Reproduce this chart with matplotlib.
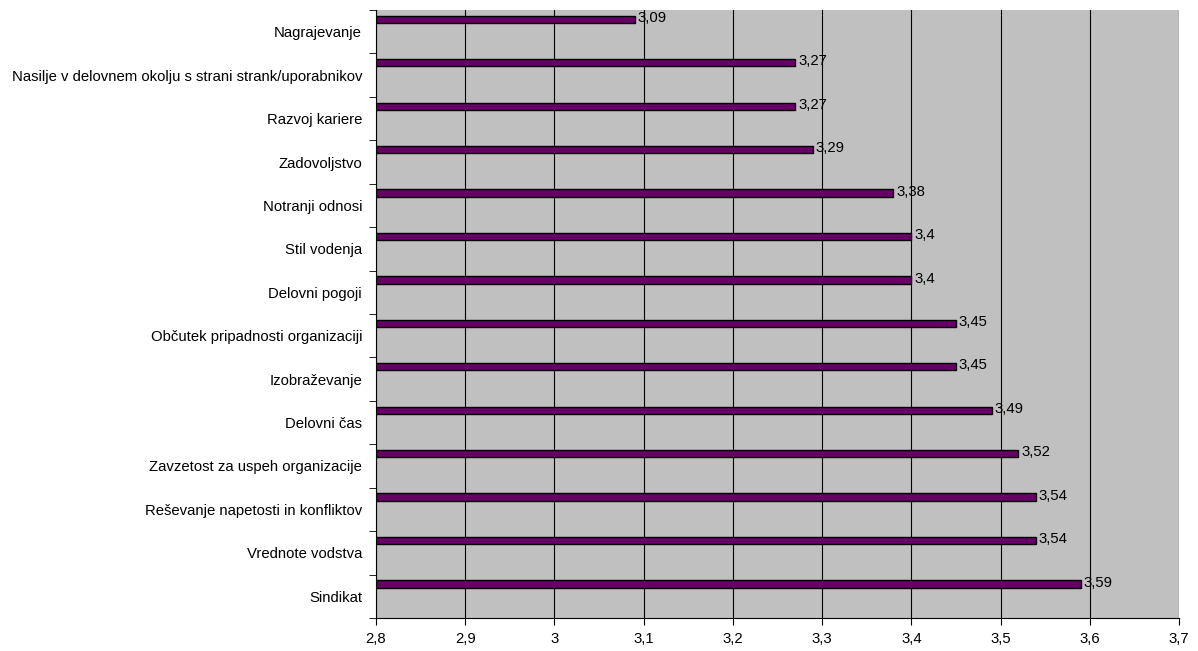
import numpy as np
import matplotlib.pyplot as plt

plt.rcParams['font.family'] = ['Liberation Sans', 'DejaVu Sans']

# Categories from top to bottom with their mean scores
categories = [
    "Nagrajevanje",
    "Nasilje v delovnem okolju s strani strank/uporabnikov",
    "Razvoj kariere",
    "Zadovoljstvo",
    "Notranji odnosi",
    "Stil vodenja",
    "Delovni pogoji",
    "Občutek pripadnosti organizaciji",
    "Izobraževanje",
    "Delovni čas",
    "Zavzetost za uspeh organizacije",
    "Reševanje napetosti in konfliktov",
    "Vrednote vodstva",
    "Sindikat",
]
scores = [3.09, 3.27, 3.27, 3.29, 3.38, 3.40, 3.40, 3.45, 3.45, 3.49, 3.52, 3.54, 3.54, 3.59]
x_ticks = [2.8, 2.9, 3.0, 3.1, 3.2, 3.3, 3.4, 3.5, 3.6, 3.7]

FS = 10.7

def fmt(v):
    s = f"{v:.2f}".rstrip("0").rstrip(".")
    return s.replace(".", ",")

fig = plt.figure(figsize=(11.98, 6.51), dpi=100)
ax = fig.add_axes([376 / 1198, 1 - 618 / 651, (1179 - 376) / 1198, (618 - 10) / 651])
ax.set_facecolor("#C0C0C0")

pos = np.arange(len(categories))
x0 = x_ticks[0]
# bars sit in the upper part of each category band
bar_y = pos - 0.5 + 0.215
ax.barh(bar_y, np.array(scores) - x0, left=x0, height=0.17,
        color="#660066", edgecolor="black", linewidth=1.0, zorder=3)

for y, v in zip(bar_y, scores):
    ax.text(v + 0.003, y - 0.03, fmt(v), va="center", ha="left", fontsize=FS, zorder=4)

ax.set_xlim(x_ticks[0], x_ticks[-1])
ax.set_ylim(len(categories) - 0.5, -0.5)
ax.set_xticks(x_ticks)
ax.set_xticklabels([fmt(t) for t in x_ticks], fontsize=FS)
ax.set_yticks(pos)
ax.set_yticklabels(categories, fontsize=FS)
ax.set_yticks(np.arange(len(categories) + 1) - 0.5, minor=True)
ax.tick_params(axis="y", which="major", length=0, pad=10)
ax.tick_params(axis="y", which="minor", length=5, direction="out", color="black")
ax.tick_params(axis="x", length=5, direction="out", pad=5)

ax.grid(axis="x", color="black", linewidth=0.8, zorder=1)
ax.set_axisbelow(True)
for side in ("top", "right"):
    ax.spines[side].set_visible(False)
ax.spines["left"].set_color("black")
ax.spines["bottom"].set_color("black")

fig.savefig("out.png", dpi=100)
